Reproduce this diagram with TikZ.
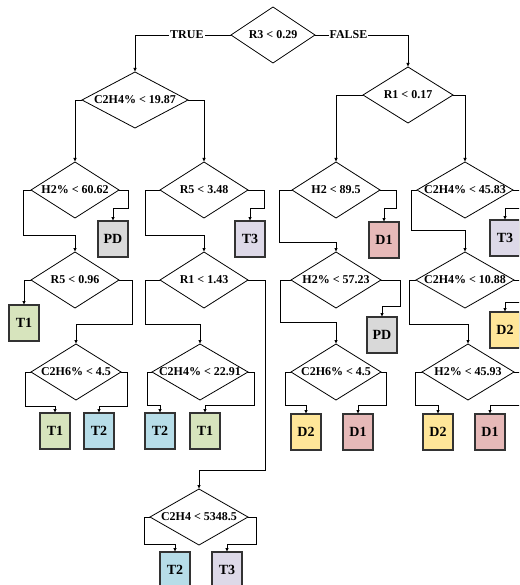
\documentclass[tikz,border=0pt]{standalone}
\usepackage{fontspec}
\setmainfont{Liberation Serif}
\usetikzlibrary{shapes.geometric,arrows.meta}
\definecolor{cPD}{HTML}{D9D9D9}
\definecolor{cT1}{HTML}{D7E4BD}
\definecolor{cT2}{HTML}{B7DDE8}
\definecolor{cT3}{HTML}{DDD9E8}
\definecolor{cD1}{HTML}{E6B9B8}
\definecolor{cD2}{HTML}{FFE699}
\begin{document}
\begin{tikzpicture}[x=1pt,y=-1pt,
  font=\bfseries\fontsize{12}{12}\selectfont,
  dia/.style={draw, shape=diamond, inner sep=0pt, outer sep=0pt, minimum height=56pt, line width=0.8pt},
  leaf/.style={draw=black!80, line width=1.1pt, minimum width=30pt, minimum height=36pt, inner sep=0pt, outer sep=0pt, font=\bfseries\fontsize{14}{14}\selectfont},
  arr/.style={line width=0.8pt, -{Latex[length=4pt,width=3.5pt]}},
  lbl/.style={fill=white, inner sep=1pt}]
\useasboundingbox (0,0) rectangle (519,585);
\clip (0,0) rectangle (519,585);
% decision nodes
\node[dia, minimum width=84pt, label=center:{R3 < 0.29}] (r3) at (273,35) {};
\node[dia, minimum width=106pt, label=center:{C2H4\% < 19.87}] (a) at (135,100) {};
\node[dia, minimum width=90pt, label=center:{R1 < 0.17}] (b) at (408,95) {};
\node[dia, minimum width=88pt, label=center:{H2\% < 60.62}] (c) at (75,190) {};
\node[dia, minimum width=88pt, label=center:{R5 < 3.48}] (d) at (204,190) {};
\node[dia, minimum width=88pt, label=center:{R5 < 0.96}] (e) at (75,280) {};
\node[dia, minimum width=90pt, label=center:{C2H6\% < 4.5}] (f) at (76,372) {};
\node[dia, minimum width=88pt, label=center:{R1 < 1.43}] (g) at (204,280) {};
\node[dia, minimum width=96pt, label=center:{C2H4\% < 22.91}] (h) at (200,372) {};
\node[dia, minimum width=98pt, label=center:{C2H4 < 5348.5}] (i) at (199,517) {};
\node[dia, minimum width=88pt, label=center:{H2 < 89.5}] (j) at (336,190) {};
\node[dia, minimum width=90pt, label=center:{H2\% < 57.23}] (k) at (336,280) {};
\node[dia, minimum width=90pt, label=center:{C2H6\% < 4.5}] (l) at (336,372) {};
\node[dia, minimum width=96pt, label=center:{C2H4\% < 45.83}] (m) at (465,190) {};
\node[dia, minimum width=98pt, label=center:{C2H4\% < 10.88}] (n) at (465,280) {};
\node[dia, minimum width=92pt, label=center:{H2\% < 45.93}] (o) at (468,372) {};
% leaves
\node[leaf, fill=cPD] (pd1) at (113,239) {PD};
\node[leaf, fill=cT3] (t3a) at (250,239) {T3};
\node[leaf, fill=cT1] (t1a) at (24,323) {T1};
\node[leaf, fill=cT1] (t1b) at (55,431) {T1};
\node[leaf, fill=cT2] (t2a) at (99,431) {T2};
\node[leaf, fill=cT2] (t2b) at (160,431) {T2};
\node[leaf, fill=cT1] (t1c) at (205,431) {T1};
\node[leaf, fill=cT2] (t2c) at (175,570) {T2};
\node[leaf, fill=cT3] (t3b) at (227,570) {T3};
\node[leaf, fill=cD1] (d1a) at (384,240) {D1};
\node[leaf, fill=cPD] (pd2) at (382,335) {PD};
\node[leaf, fill=cD2] (d2a) at (306,432) {D2};
\node[leaf, fill=cD1] (d1b) at (358,432) {D1};
\node[leaf, fill=cT3] (t3c) at (505,238) {T3};
\node[leaf, fill=cD2] (d2b) at (505,330) {D2};
\node[leaf, fill=cD2] (d2c) at (438,432) {D2};
\node[leaf, fill=cD1] (d1c) at (490,432) {D1};
% connectors
\draw[arr] (r3.west) -| node[lbl, pos=0.23]{TRUE} (a.north);
\draw[arr] (r3.east) -| node[lbl, pos=0.18]{FALSE} (b.north);
\draw[arr] (a.west) -| (c.north);
\draw[arr] (a.east) -| (d.north);
\draw[arr] (b.west) -| (j.north);
\draw[arr] (b.east) -| (m.north);
\draw[arr] (c.west) -- ++(-8,0) |- ([yshift=17pt]e.north) -- (e.north);
\draw[arr] (c.east) -- ++(9,0) |- ([yshift=13pt]pd1.north) -- (pd1.north);
\draw[arr] (d.west) -- ++(-15,0) |- ([yshift=17pt]g.north) -- (g.north);
\draw[arr] (d.east) -- ++(16,0) |- ([yshift=13pt]t3a.north) -- (t3a.north);
\draw[arr] (e.west) -| (t1a.north);
\draw[arr] (e.east) -- ++(13,0) |- ([yshift=20pt]f.north) -- (f.north);
\draw[arr] (f.west) -- ++(-6,0) |- ([yshift=7pt]t1b.north) -- (t1b.north);
\draw[arr] (f.east) -- ++(6,0) |- ([yshift=7pt]t2a.north) -- (t2a.north);
\draw[arr] (g.west) -- ++(-15,0) |- ([yshift=20pt]h.north) -- (h.north);
\draw[arr] (g.east) -- ++(17,0) |- ([yshift=19pt]i.north) -- (i.north);
\draw[arr] (h.west) -- ++(-5,0) |- ([yshift=8pt]t2b.north) -- (t2b.north);
\draw[arr] (h.east) -- ++(6,0) |- ([yshift=8pt]t1c.north) -- (t1c.north);
\draw[arr] (i.west) -- ++(-6,0) |- ([yshift=8pt]t2c.north) -- (t2c.north);
\draw[arr] (i.east) -- ++(8,0) |- ([yshift=8pt]t3b.north) -- (t3b.north);
\draw[arr] (j.west) -- ++(-13,0) |- ([yshift=10pt]k.north) -- (k.north);
\draw[arr] (j.east) -- ++(16,0) |- ([yshift=14pt]d1a.north) -- (d1a.north);
\draw[arr] (k.west) -- ++(-11,0) |- ([yshift=22pt]l.north) -- (l.north);
\draw[arr] (k.east) -- ++(19,0) |- ([yshift=11pt]pd2.north) -- (pd2.north);
\draw[arr] (l.west) -- ++(-6,0) |- ([yshift=9pt]d2a.north) -- (d2a.north);
\draw[arr] (l.east) -- ++(5,0) |- ([yshift=9pt]d1b.north) -- (d1b.north);
\draw[arr] (m.west) -- ++(-6,0) |- ([yshift=22pt]n.north) -- (n.north);
\draw[arr] (m.east) -- ++(12,0) |- ([yshift=12pt]t3c.north) -- (t3c.north);
\draw[arr] (n.west) -- ++(-7,0) |- ([yshift=20pt]o.north) -- (o.north);
\draw[arr] (n.east) -- ++(12,0) |- ([yshift=10pt]d2b.north) -- (d2b.north);
\draw[arr] (o.west) -- ++(-7,0) |- ([yshift=9pt]d2c.north) -- (d2c.north);
\draw[arr] (o.east) -- ++(12,0) |- ([yshift=9pt]d1c.north) -- (d1c.north);
\end{tikzpicture}
\end{document}
